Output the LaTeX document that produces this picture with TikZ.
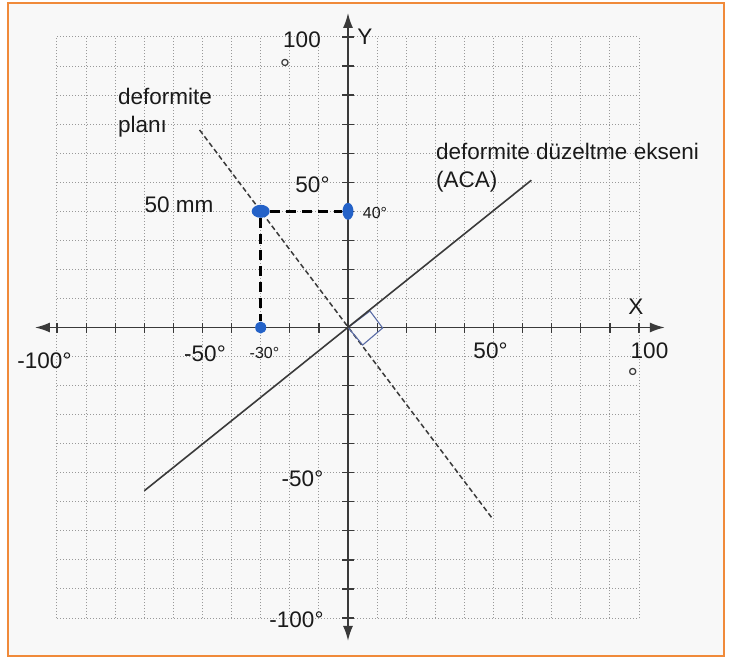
\documentclass[tikz,border=0pt]{standalone}
\usepackage{fontspec}
\setmainfont{Liberation Sans}
\usetikzlibrary{arrows.meta,shapes.geometric}
\definecolor{frameorange}{HTML}{F08A3A}
\definecolor{bgpaper}{HTML}{F8F8F8}
\definecolor{dotblue}{HTML}{2462C8}
\definecolor{axisgray}{HTML}{3A3A3A}
\definecolor{gridgray}{HTML}{999999}
\definecolor{squareblue}{HTML}{5A6CA6}
\definecolor{inkgray}{HTML}{1A1A1A}
\begin{document}
\begin{tikzpicture}[x=1pt,y=-1pt,
  lbl/.style={font=\fontsize{22.5}{27}\selectfont, inner sep=0pt, text=inkgray, anchor=base},
  smalllbl/.style={font=\fontsize{16}{19}\selectfont, inner sep=0pt, text=inkgray, anchor=base},
  degsign/.style={font=\fontsize{26}{30}\selectfont, inner sep=0pt, text=axisgray, anchor=base},
  gridline/.style={gridgray, line width=1pt, dash pattern=on 1.4pt off 1.6pt},
  axisline/.style={axisgray, line width=1.8pt, {Latex[length=15pt,width=10pt]}-{Latex[length=15pt,width=10pt]}},
  tickmark/.style={axisgray, line width=1.2pt},
  planeline/.style={axisgray, line width=1.5pt, dash pattern=on 5pt off 3pt},
  acaline/.style={axisgray, line width=1.6pt},
  thickdash/.style={black, line width=2.6pt, dash pattern=on 10pt off 6pt},
  bluedot/.style={ellipse, fill=dotblue, draw=none, inner sep=0pt},
  rightmark/.style={squareblue, line width=1.1pt}
]
\useasboundingbox (0,0) rectangle (732,658);
\fill[white] (0,0) rectangle (732,658);
\draw[frameorange, line width=2pt, fill=bgpaper] (8,3) rectangle (724,656);

\begin{scope}[shift={(348pt,-327.5pt)}, x=2.91pt, y=2.905pt]
  % grid
  \foreach \i in {-100,-90,...,100} {
    \draw[gridline] (\i,-100) -- (\i,100);
    \draw[gridline] (-100,\i) -- (100,\i);
  }
  % axes
  \coordinate (O) at (0,0);
  \coordinate (xl) at (-107.6,0);
  \coordinate (xr) at (108.9,0);
  \coordinate (yt) at (0,108.3);
  \coordinate (yb) at (0,-107.9);
  \draw[axisline] (xl) -- (xr);
  \draw[axisline] (yb) -- (yt);
  \foreach \i in {-100,-90,...,-10,10,20,...,100} {
    \draw[tickmark] (\i,0) ++(0,-5pt) -- ++(0,10pt);
    \draw[tickmark] (0,\i) ++(-6pt,0) -- ++(12pt,0);
  }
  % deformity plane (dashed)
  \coordinate (p1) at (-51,68);
  \coordinate (p2) at (49.8,-66);
  \draw[planeline] (p1) -- (p2);
  % right-angle mark
  \coordinate (r1) at (7.56,5.68);
  \coordinate (r2) at (11.9,-0.17);
  \coordinate (r3) at (5.05,-6.02);
  \draw[rightmark] (O) -- (r1) -- (r2) -- (r3) -- cycle;
  % ACA line
  \coordinate (a1) at (-70,-56.2);
  \coordinate (a2) at (63,50.7);
  \draw[acaline] (a1) -- (a2);
  % points
  \node[bluedot, minimum width=18pt, minimum height=13pt] (dA) at (-30,40) {};
  \node[bluedot, minimum width=11pt, minimum height=17pt] (dB) at (0,40) {};
  \node[bluedot, minimum width=11pt, minimum height=12pt] (dC) at (-30,0) {};
  \draw[thickdash] (dA) -- (dB);
  \draw[thickdash] (dA) -- (dC);
\end{scope}

% labels
\node[lbl] (t100) at (302,48) {100};
\node[degsign] (tdeg1) at (285,77.5) {°};
\node[lbl] (tY) at (365,45) {Y};
\node[lbl] (tX) at (636,315) {X};
\node[lbl] (t50y) at (312.5,193) {50°};
\node[lbl] (t50mm) at (179,213) {50 mm};
\node[smalllbl] (t40) at (375,219) {40°};
\node[smalllbl] (tm30) at (264.5,358) {-30°};
\node[lbl] (tm50x) at (205,361) {-50°};
\node[lbl] (tm100x) at (44.5,368) {-100°};
\node[lbl] (t50x) at (490.5,358) {50°};
\node[lbl] (t100x) at (649.5,358) {100};
\node[degsign] (tdeg2) at (632.7,386.5) {°};
\node[lbl] (tm50y) at (302.5,486) {-50°};
\node[lbl] (tm100y) at (296.5,627) {-100°};
\node[lbl, anchor=base west] (tdef1) at (118,105) {deformite};
\node[lbl, anchor=base west] (tdef2) at (118,133) {planı};
\node[lbl, anchor=base west] (taca1) at (436,159.5) {deformite düzeltme ekseni};
\node[lbl, anchor=base west] (taca2) at (436,188) {(ACA)};
\end{tikzpicture}
\end{document}
